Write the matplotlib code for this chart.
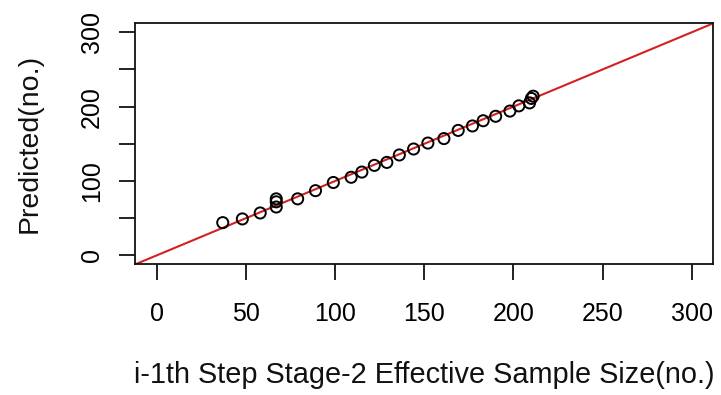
import matplotlib
matplotlib.use("Agg")
import matplotlib.pyplot as plt
import numpy as np

observed = [37, 48, 58, 67, 67, 67, 79, 89, 99, 109, 115, 122, 129, 136,
            144, 152, 161, 169, 177, 183, 190, 198, 203, 209, 210, 211]
predicted = [44, 49, 57, 76, 72, 65, 76, 87, 98, 105, 112, 121, 125, 135,
             143, 151, 157, 168, 174, 181, 187, 194, 201, 205, 211, 214]
xticks = [0, 50, 100, 150, 200, 250, 300]
yticks = [0, 50, 100, 150, 200, 250, 300]
ylabels = ["0", "", "100", "", "200", "", "300"]

plt.rcParams["font.family"] = ["Liberation Sans", "DejaVu Sans"]

fig = plt.figure(figsize=(7.21, 3.95), dpi=100)
ax = fig.add_axes([0.1877, 0.3309, 0.8016, 0.6101])

lo, hi = -12, 312
ax.plot([lo, hi], [lo, hi], color="#d42020", lw=1.5, zorder=1)
ax.scatter(observed, predicted, s=64, facecolors="none", edgecolors="black",
           linewidths=1.4, zorder=2)

ax.set_xlim(lo, hi)
ax.set_ylim(lo, hi)
ax.set_xticks(xticks)
ax.set_yticks(yticks)
ax.set_yticklabels(ylabels, rotation=90, va="center")
ax.tick_params(axis="both", labelsize=18, length=11.5, width=1.3,
               direction="out", color="#111111")
ax.tick_params(axis="x", pad=16)
ax.tick_params(axis="y", pad=11)
for s in ax.spines.values():
    s.set_linewidth(1.3)
    s.set_color("#111111")

ax.set_xlabel("i-1th Step Stage-2 Effective Sample Size(no.)", fontsize=20.8,
              labelpad=25, color="#111111")
ax.set_ylabel("Predicted(no.)", fontsize=20.5, labelpad=27, color="#111111")

fig.savefig("out.png", dpi=100)
